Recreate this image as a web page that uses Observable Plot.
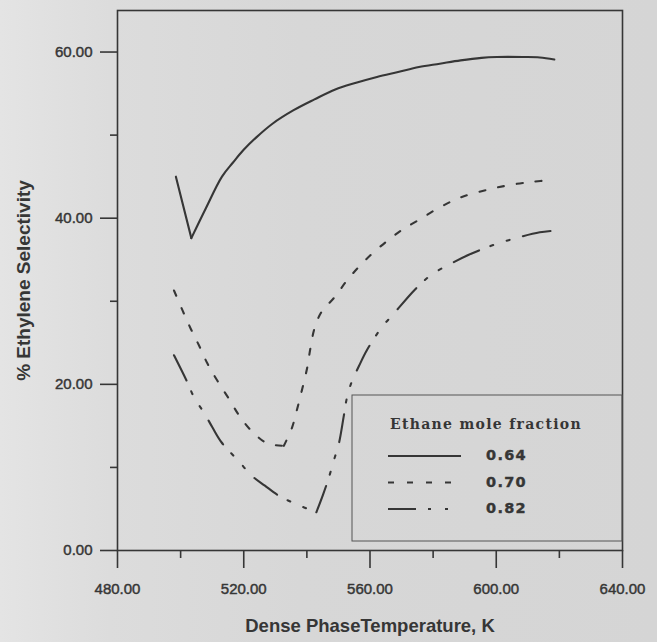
<!DOCTYPE html>
<html><head><meta charset="utf-8">
<script src="https://cdn.jsdelivr.net/npm/d3@7"></script>
<script src="https://cdn.jsdelivr.net/npm/@observablehq/plot@0.6"></script>
<style>
html,body{margin:0;padding:0;}
body{width:657px;height:642px;overflow:hidden;background:linear-gradient(to right,#e4e4e4 0px,#dcdcdc 110px,#d7d7d7 300px,#d5d5d5 100%);}
#chart svg{display:block;}
</style></head><body><div id="chart"></div>
<script>
// ---- data ----
const seriesNames = ["0.64", "0.70", "0.82"];

const temp064 = [498.5, 503.4, 508, 513.1, 516.6, 519.9, 523.9, 529.2, 535.8, 542.4, 549.0, 555.6, 562.2, 568.9, 575.5, 582.1, 588.7, 595.3, 600.2, 608.5, 613.8, 618.4];
const sel064  = [45.0, 37.6, 41.2, 45.0, 46.7, 48.2, 49.7, 51.4, 53.0, 54.3, 55.5, 56.3, 57.0, 57.6, 58.2, 58.6, 59.0, 59.3, 59.4, 59.4, 59.35, 59.1];

const temp070 = [497.9, 500.6, 503.2, 505.8, 508.5, 511.7, 515.4, 518.8, 522.7, 527.5, 532.7, 535.3, 536.9, 538.5, 540.1, 541.1, 542.4, 544.6, 548.8, 552.7, 556.6, 560.9, 565.9, 570.2, 575.5, 582.1, 588.7, 598, 605.9, 612, 617.1];
const sel070  = [31.3, 28.9, 26.7, 24.7, 22.5, 20.4, 18.2, 16.1, 14.3, 12.9, 12.6, 14.8, 17.0, 19.4, 22.0, 24.3, 26.7, 28.7, 30.5, 32.5, 34.2, 35.8, 37.4, 38.6, 39.8, 41.3, 42.5, 43.5, 44.1, 44.4, 44.6];

const temp082 = [497.9, 502.2, 504.3, 507.4, 510.1, 513, 519, 522.2, 526.7, 531.1, 535.9, 543.0, 545.1, 546.9, 548.5, 550.1, 551.7, 552.7, 554.3, 556.5, 559, 563.8, 567.3, 574.2, 579.5, 586, 591.3, 599.3, 607.2, 613.8, 618.4];
const sel082  = [23.5, 20.2, 18.4, 16.6, 14.8, 13.0, 10.5, 9.1, 7.8, 6.6, 5.7, 4.6, 6.7, 8.7, 10.8, 12.8, 16.2, 18.4, 20.4, 22.2, 24.1, 26.9, 28.4, 31.4, 33.2, 34.6, 35.6, 36.8, 37.7, 38.3, 38.5];

const xTicks = [480, 520, 560, 600, 640];
const xMinorTicks = [500, 540, 580, 620];
const yTicks = [0, 20, 40, 60];
const yMinorTicks = [10, 30, 50];

const xTitle = "Dense PhaseTemperature, K";
const yTitle = "% Ethylene Selectivity";
const legendTitle = "Ethane mole fraction";

// ---- styles ----
const ink = "#363636";
const dashes = {"0.64": null, "0.70": "6,13", "0.82": "28,12,3,14,3,14"};
const fmt = d => d.toFixed(2);

// split each curve at its minimum so the V stays sharp while the arms are smooth
function rowsOf(ts, ss) {
  let m = 0;
  ss.forEach((v, i) => { if (v < ss[m]) m = i; });
  const rows = [];
  ts.forEach((t, i) => {
    if (i <= m) rows.push({t, s: ss[i], seg: 0});
    if (i >= m) rows.push({t, s: ss[i], seg: 1});
  });
  return rows;
}
const seriesData = [
  {name: "0.64", rows: rowsOf(temp064, sel064)},
  {name: "0.70", rows: rowsOf(temp070, sel070)},
  {name: "0.82", rows: rowsOf(temp082, sel082)}
];

const chart = Plot.plot({
  width: 657, height: 642,
  marginLeft: 117, marginRight: 35, marginTop: 10, marginBottom: 92,
  style: {background: "transparent", fontFamily: "'Liberation Sans', Arial, sans-serif", fontSize: "15px", color: ink},
  x: {domain: [480, 640]},
  y: {domain: [0, 65]},
  marks: [
    Plot.frame({stroke: ink, strokeWidth: 1.6}),
    Plot.axisX({ticks: xTicks, tickSize: 18, tickPadding: 15, tickFormat: fmt, label: null, stroke: ink, strokeWidth: 1.6, fill: ink, fontSize: 15, textStroke: ink, textStrokeWidth: 0.45}),
    Plot.axisX({ticks: xMinorTicks, tickSize: 8, tickFormat: () => "", label: null, stroke: ink, strokeWidth: 1.6}),
    Plot.axisY({ticks: yTicks, tickSize: 17, tickPadding: 8, tickFormat: fmt, label: null, stroke: ink, strokeWidth: 1.6, fill: ink, fontSize: 15, textStroke: ink, textStrokeWidth: 0.45}),
    Plot.axisY({ticks: yMinorTicks, tickSize: 7, tickFormat: () => "", label: null, stroke: ink, strokeWidth: 1.6}),
    ...seriesData.map(d => Plot.line(d.rows, {x: "t", y: "s", z: "seg", curve: "catmull-rom", stroke: ink, strokeWidth: 2.1, strokeDasharray: dashes[d.name]})),
    Plot.text([yTitle], {frameAnchor: "left", dx: -94, rotate: -90, textAnchor: "middle", fontWeight: "bold", fontSize: 19, fill: ink}),
    Plot.text([xTitle], {frameAnchor: "bottom", dy: 81, textAnchor: "middle", fontWeight: "bold", fontSize: 18.5, fill: ink})
  ]
});
document.getElementById("chart").appendChild(chart);

// ---- legend (layout inside the plot frame) ----
const svg = d3.select(chart);
const right = 657 - 35;
const lg = svg.append("g").attr("text-anchor", "start");
lg.append("rect")
  .attr("x", right - 270).attr("y", 395).attr("width", 270).attr("height", 146)
  .attr("fill", "none").attr("stroke", "#555").attr("stroke-width", 1);
lg.append("text")
  .attr("x", right - 232).attr("y", 425).attr("dominant-baseline", "middle")
  .attr("font-family", "'DejaVu Serif', serif").attr("font-weight", "bold")
  .attr("font-size", 14).attr("letter-spacing", "1.3px").attr("fill", ink)
  .text(legendTitle);
seriesNames.forEach((name, i) => {
  const y = 456 + i * 26.5;
  lg.append("line")
    .attr("x1", right - 234).attr("x2", right - (i === 0 ? 161 : 168)).attr("y1", y).attr("y2", y)
    .attr("stroke", ink).attr("stroke-width", 2)
    .attr("stroke-dasharray", dashes[name]);
  lg.append("text")
    .attr("x", right - 136).attr("y", y).attr("dominant-baseline", "middle")
    .attr("font-family", "'DejaVu Sans', sans-serif").attr("font-weight", "bold")
    .attr("font-size", 14.5).attr("letter-spacing", "1.3px").attr("fill", ink)
    .attr("stroke", ink).attr("stroke-width", 0.4)
    .text(name);
});
</script>
</body></html>
